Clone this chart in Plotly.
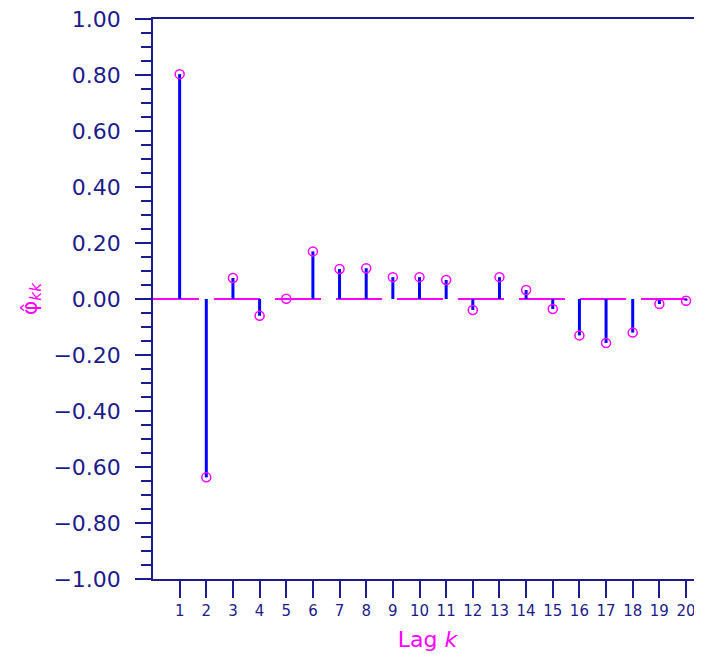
import plotly.graph_objects as go

lags = list(range(1, 21))
pacf = [0.803, -0.637, 0.075, -0.060, 0.001, 0.170, 0.107, 0.110, 0.078, 0.078,
        0.068, -0.039, 0.078, 0.032, -0.036, -0.130, -0.157, -0.120, -0.018, -0.006]
y_ticks = [-1.0, -0.8, -0.6, -0.4, -0.2, 0.0, 0.2, 0.4, 0.6, 0.8, 1.0]
x_range = [0, 20.6]

NAVY = "#1c1c8a"
MAG = "#ff00ff"
BLUE = "#0000ff"

spike_x, spike_y = [], []
for k, v in zip(lags, pacf):
    spike_x += [k, k, None]
    spike_y += [0, v, None]

fig = go.Figure()
fig.add_trace(go.Scatter(x=x_range, y=[0, 0], mode="lines",
                         line=dict(color=MAG, width=2, dash="46px,15px"),
                         hoverinfo="skip", showlegend=False))
fig.add_trace(go.Scatter(x=spike_x, y=spike_y, mode="lines",
                         line=dict(color=BLUE, width=3), showlegend=False))
fig.add_trace(go.Scatter(x=lags, y=pacf, mode="markers",
                         marker=dict(symbol="circle-open", size=9, color=MAG,
                                     line=dict(width=1.5, color=MAG)),
                         showlegend=False))

fig.update_layout(
    width=694, height=648,
    margin=dict(l=145, r=0, t=11, b=77),
    paper_bgcolor="white", plot_bgcolor="white",
    font=dict(family="DejaVu Sans", color=NAVY),
    xaxis=dict(range=x_range, tickmode="array", tickvals=lags,
               ticktext=[str(k) for k in lags], automargin=False,
               ticklabeloverflow="allow",
               ticks="outside", ticklen=17, tickwidth=1.5, tickcolor=NAVY,
               showline=True, linecolor=NAVY, linewidth=1.5, mirror=True,
               showgrid=False, zeroline=False,
               tickfont=dict(size=15, color=NAVY),
               title=dict(text="Lag <i>k</i>", font=dict(size=22, color=MAG),
                          standoff=13)),
    yaxis=dict(range=[-1, 1], tickmode="array", tickvals=y_ticks,
               ticktext=[("\u2212" if t < 0 else "") + f"{abs(t):.2f}" for t in y_ticks],
               automargin=False, ticklabelstandoff=10, ticklabeloverflow="allow",
               ticks="outside", ticklen=16, tickwidth=1.5, tickcolor=NAVY,
               minor=dict(dtick=0.05, ticks="outside", ticklen=10,
                          tickwidth=1.5, tickcolor=NAVY, showgrid=False),
               showline=True, linecolor=NAVY, linewidth=1.5,
               showgrid=False, zeroline=False,
               tickfont=dict(size=22, color=NAVY),
               title=dict(text="\u03c6\u0302<sub><i>kk</i></sub>",
                          font=dict(size=22, color=MAG), standoff=10)),
)

fig.write_html("out.html")
